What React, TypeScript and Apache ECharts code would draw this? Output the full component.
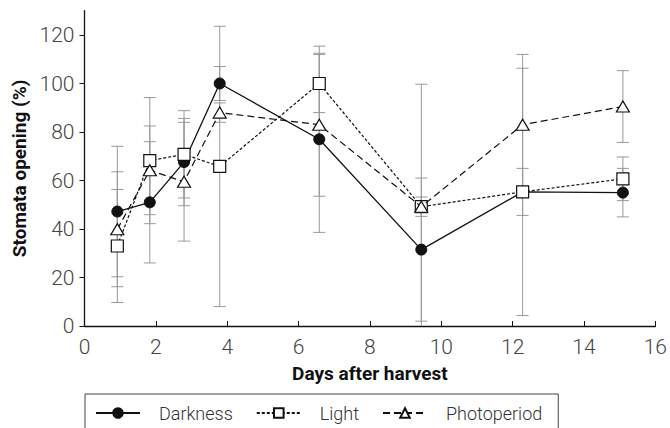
import React, { useEffect, useRef } from "react";
import * as echarts from "echarts";

const days = [0.92, 1.83, 2.79, 3.79, 6.58, 9.44, 12.28, 15.09];
const darkness = [47.2, 51, 67.6, 100, 77, 31.5, 55.3, 55];
const darknessErr = [26.9, 25, 18, 7, 38.4, 29.5, 9.7, 10];
const light = [33, 68.2, 70.8, 65.8, 100, 49.2, 55.3, 60.7];
const lightErr = [23.3, 26, 18, 57.8, 12, 50.5, 51, 9];
const photoperiod = [39.9, 64.2, 59.5, 88, 83, 49.2, 83, 90.5];
const photoperiodErr = [23.7, 18.3, 24.5, 4, 29.5, 4, 29, 14.8];
const yTicks = [0, 20, 40, 60, 80, 100, 120];

const FONT = "Roboto, 'Liberation Sans', sans-serif";

function errorSeries(vals: number[], errs: number[]) {
  return {
    type: "custom",
    silent: true,
    z: 1,
    clip: true,
    encode: { x: 0, y: 1 },
    data: days.map((d, i) => [d, vals[i], errs[i]]),
    renderItem: (_params: any, api: any) => {
      const x = api.value(0);
      const y = api.value(1);
      const e = api.value(2);
      const top = api.coord([x, y + e]);
      const bot = api.coord([x, y - e]);
      const hw = 6;
      const st = { stroke: "#999999", lineWidth: 1 };
      return {
        type: "group",
        children: [
          { type: "line", shape: { x1: top[0], y1: top[1], x2: bot[0], y2: bot[1] }, style: st },
          { type: "line", shape: { x1: top[0] - hw, y1: top[1], x2: top[0] + hw, y2: top[1] }, style: st },
          { type: "line", shape: { x1: bot[0] - hw, y1: bot[1], x2: bot[0] + hw, y2: bot[1] }, style: st },
        ],
      };
    },
  };
}

export default function App() {
  const ref = useRef<HTMLDivElement>(null);
  useEffect(() => {
    document.body.style.margin = "0";
    const chart = echarts.init(ref.current!, null, { renderer: "svg" });
    chart.setOption({
      animation: false,
      backgroundColor: "#ffffff",
      grid: { left: 84.5, right: 12.3, top: 10.75, bottom: 102 },
      xAxis: {
        type: "value",
        min: 0,
        max: 16,
        interval: 2,
        name: "Days after harvest",
        nameLocation: "middle",
        nameGap: 38,
        nameTextStyle: { fontFamily: FONT, fontSize: 19, fontWeight: "bold", color: "#111" },
        axisLine: { lineStyle: { color: "#111", width: 1.3 } },
        axisTick: { inside: true, length: 5, lineStyle: { color: "#111" } },
        axisLabel: { fontFamily: FONT, fontSize: 21, fontWeight: 300, color: "#444", margin: 10 },
        splitLine: { show: false },
      },
      yAxis: {
        type: "value",
        min: 0,
        max: 130,
        interval: 10,
        name: "Stomata opening (%)",
        nameLocation: "middle",
        nameGap: 49,
        nameTextStyle: { fontFamily: FONT, fontSize: 19, fontWeight: "bold", color: "#111" },
        axisLine: { show: true, lineStyle: { color: "#111", width: 1.3 } },
        axisTick: { show: true, inside: false, length: 5, customValues: yTicks, lineStyle: { color: "#111" } },
        axisLabel: { fontFamily: FONT, fontSize: 21, fontWeight: 300, color: "#444", margin: 10, customValues: yTicks },
        splitLine: { show: false },
      },
      legend: {
        data: ["Darkness", "Light", "Photoperiod"],
        left: 85,
        top: 394,
        orient: "horizontal",
        itemWidth: 44,
        itemHeight: 12,
        itemGap: 23,
        padding: [9, 16, 10, 10],
        borderColor: "#444",
        borderWidth: 1,
        textStyle: { fontFamily: FONT, fontSize: 18, fontWeight: 300, color: "#333", padding: [0, 0, 0, 14], lineHeight: 20 },
      },
      series: [
        errorSeries(darkness, darknessErr),
        errorSeries(light, lightErr),
        errorSeries(photoperiod, photoperiodErr),
        {
          name: "Darkness",
          type: "line",
          z: 3,
          data: days.map((d, i) => [d, darkness[i]]),
          symbol: "circle",
          symbolSize: 11,
          itemStyle: { color: "#111", borderColor: "#111", borderWidth: 1 },
          lineStyle: { color: "#111", width: 1.3, type: "solid" },
        },
        {
          name: "Light",
          type: "line",
          z: 4,
          data: days.map((d, i) => [d, light[i]]),
          symbol: "rect",
          symbolSize: 12,
          itemStyle: { color: "#ffffff", borderColor: "#111", borderWidth: 1.2 },
          lineStyle: { color: "#111", width: 1.2, type: [3, 2] },
        },
        {
          name: "Photoperiod",
          type: "line",
          z: 5,
          data: days.map((d, i) => [d, photoperiod[i]]),
          symbol: "triangle",
          symbolSize: [13, 11],
          itemStyle: { color: "#ffffff", borderColor: "#111", borderWidth: 1.2 },
          lineStyle: { color: "#111", width: 1.2, type: [7, 4] },
        },
      ],
    });
    return () => chart.dispose();
  }, []);
  return <div ref={ref} style={{ width: 670, height: 428 }} />;
}
